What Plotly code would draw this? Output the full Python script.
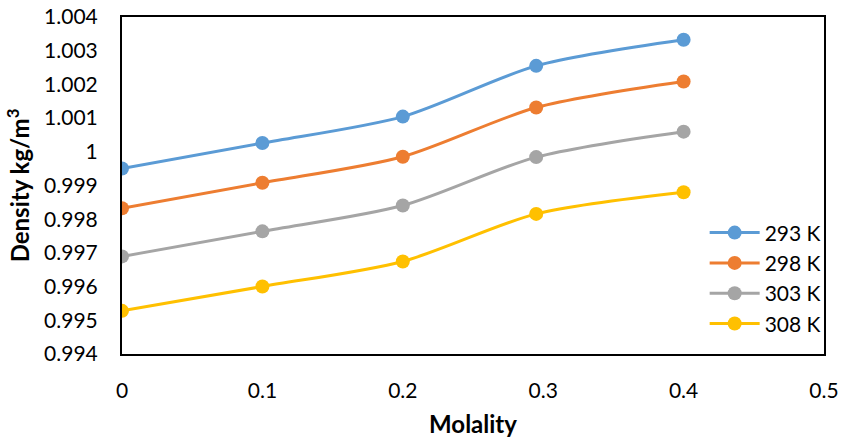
import plotly.graph_objects as go

# Molality of the solutions (mol/kg)
molality = [0.0, 0.1, 0.2, 0.295, 0.4]

# Density at each temperature
density_293 = [0.999506, 1.000259, 1.001045, 1.002551, 1.003324]
density_298 = [0.998324, 0.999080, 0.999854, 1.001313, 1.002086]
density_303 = [0.996896, 0.997640, 0.998405, 0.999842, 1.000598]
density_308 = [0.995280, 0.996003, 0.996747, 0.998158, 0.998801]

series_names = ["293 K", "298 K", "303 K", "308 K"]
series_colors = ["#5B9BD5", "#ED7D31", "#A5A5A5", "#FFC000"]

y_tick_vals = [0.994, 0.995, 0.996, 0.997, 0.998, 0.999, 1.0, 1.001, 1.002, 1.003, 1.004]
y_tick_text = ["0.994", "0.995", "0.996", "0.997", "0.998", "0.999", "1",
               "1.001", "1.002", "1.003", "1.004"]
x_tick_vals = [0, 0.1, 0.2, 0.3, 0.4, 0.5]
x_tick_text = ["0", "0.1", "0.2", "0.3", "0.4", "0.5"]

FONT = "Lato, Calibri, sans-serif"

fig = go.Figure()
for name, ys, color in zip(series_names,
                           [density_293, density_298, density_303, density_308],
                           series_colors):
    fig.add_trace(go.Scatter(
        x=molality, y=ys, name=name, mode="lines+markers",
        line=dict(color=color, width=3, shape="spline", smoothing=0.8),
        marker=dict(color=color, size=14),
    ))

axis_common = dict(
    showgrid=False, zeroline=False, showline=True, linecolor="black",
    linewidth=2, mirror=True, ticks="", automargin=False,
    tickfont=dict(family=FONT, size=21, color="black"),
)

fig.update_layout(
    width=846, height=438,
    margin=dict(l=122, r=22, t=17, b=84),
    paper_bgcolor="white", plot_bgcolor="white",
    font=dict(family=FONT, color="black"),
    xaxis=dict(range=[0, 0.5], tickvals=x_tick_vals, ticktext=x_tick_text,
               ticklabelstandoff=17,
               title=dict(text="<b>Molality</b>", font=dict(family=FONT, size=24),
                          standoff=18),
               **axis_common),
    yaxis=dict(range=[0.994, 1.004], tickvals=y_tick_vals, ticktext=y_tick_text,
               ticklabelstandoff=18,
               title=dict(text="<b>Density kg/m<sup>3</sup></b>",
                          font=dict(family=FONT, size=24), standoff=8),
               **axis_common),
    legend=dict(x=0.83, y=0.42, xanchor="left", yanchor="top",
                font=dict(family=FONT, size=21), bgcolor="rgba(0,0,0,0)",
                itemwidth=50, tracegroupgap=0),
    showlegend=True,
)

fig.write_html("out.html")
